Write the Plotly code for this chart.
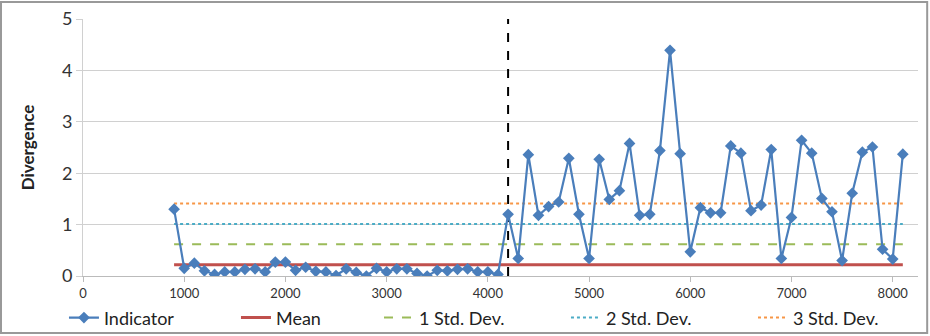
import plotly.graph_objects as go

x_vals = list(range(900, 8200, 100))
indicator = [
    1.30, 0.15, 0.25, 0.10, 0.03, 0.08, 0.08, 0.13, 0.14, 0.08,
    0.27, 0.27, 0.11, 0.17, 0.09, 0.08, 0.01, 0.14, 0.07, 0.00,
    0.15, 0.08, 0.14, 0.14, 0.05, 0.00, 0.11, 0.10, 0.13, 0.14,
    0.08, 0.08, 0.03,
    1.20, 0.34, 2.36, 1.18, 1.35, 1.44, 2.29, 1.20, 0.34, 2.27,
    1.49, 1.66, 2.58, 1.18, 1.20, 2.44, 4.39, 2.38, 0.47, 1.33,
    1.23, 1.23, 2.53, 2.39, 1.27, 1.38, 2.46, 0.34, 1.14, 2.64,
    2.39, 1.51, 1.25, 0.30, 1.61, 2.41, 2.51, 0.52, 0.33, 2.37,
]
mean_val = 0.22
std1_val = 0.62
std2_val = 1.01
std3_val = 1.41
change_x = 4200
line_x = [900, 8100]
x_ticks = [0, 1000, 2000, 3000, 4000, 5000, 6000, 7000, 8000]
y_ticks = [0, 1, 2, 3, 4, 5]

FONT = "Lato"
LEG_FONT = dict(size=18, family=FONT, color="#222")
fig = go.Figure()

fig.add_trace(go.Scatter(x=[change_x, change_x], y=[0, 5], mode="lines",
                         line=dict(color="black", width=2, dash="dash"),
                         showlegend=False, hoverinfo="skip"))
fig.add_trace(go.Scatter(x=line_x, y=[std3_val] * 2, mode="lines", name="3 Std. Dev.",
                         legend="legend5",
                         line=dict(color="#F79646", width=2, dash="dot")))
fig.add_trace(go.Scatter(x=line_x, y=[std2_val] * 2, mode="lines", name="2 Std. Dev.",
                         legend="legend4",
                         line=dict(color="#4BACC6", width=2, dash="dot")))
fig.add_trace(go.Scatter(x=line_x, y=[std1_val] * 2, mode="lines", name="1 Std. Dev.",
                         legend="legend3",
                         line=dict(color="#9BBB59", width=2, dash="dash")))
fig.add_trace(go.Scatter(x=line_x, y=[mean_val] * 2, mode="lines", name="Mean",
                         legend="legend2",
                         line=dict(color="#C0504D", width=3)))
fig.add_trace(go.Scatter(x=x_vals, y=indicator, mode="lines+markers", name="Indicator",
                         legend="legend",
                         line=dict(color="#4A7EBB", width=2.2),
                         marker=dict(symbol="diamond", size=9, color="#4A7EBB")))


def leg(xpos):
    return dict(orientation="h", x=xpos, xanchor="left", y=-0.163, yanchor="middle",
                font=LEG_FONT, itemwidth=30, bgcolor="rgba(0,0,0,0)")


fig.update_layout(
    width=930, height=336,
    margin=dict(l=83, r=12, t=19, b=60, autoexpand=False),
    paper_bgcolor="white", plot_bgcolor="white",
    font=dict(family=FONT, color="#333333"),
    legend=leg(-0.0228), legend2=leg(0.1832), legend3=leg(0.3545),
    legend4=leg(0.5784), legend5=leg(0.8024),
    shapes=[dict(type="rect", xref="paper", yref="paper",
                 x0=-0.0982, x1=1.011, y0=-0.222, y1=1.066,
                 line=dict(color="#999999", width=2), fillcolor="rgba(0,0,0,0)",
                 layer="below")],
)
fig.update_xaxes(range=[0, 8250], tickvals=x_ticks, showgrid=False,
                 showline=True, linecolor="#BBBBBB", linewidth=1,
                 ticks="outside", tickcolor="#BBBBBB", ticklen=5,
                 tickfont=dict(size=13, family=FONT, color="#333"), zeroline=False)
fig.update_yaxes(range=[0, 5], tickvals=y_ticks, showgrid=True, gridcolor="#D0D0D0",
                 gridwidth=1, showline=True, linecolor="#D0D0D0", zeroline=False,
                 ticks="outside", tickcolor="#D0D0D0", ticklen=6,
                 tickfont=dict(size=18, family=FONT, color="#333"),
                 title=dict(text="<b>Divergence</b>", font=dict(size=17, family=FONT, color="#222"),
                            standoff=22))

fig.write_html("out.html", config={"displayModeBar": False},
               post_script="document.body.style.margin='0';")
